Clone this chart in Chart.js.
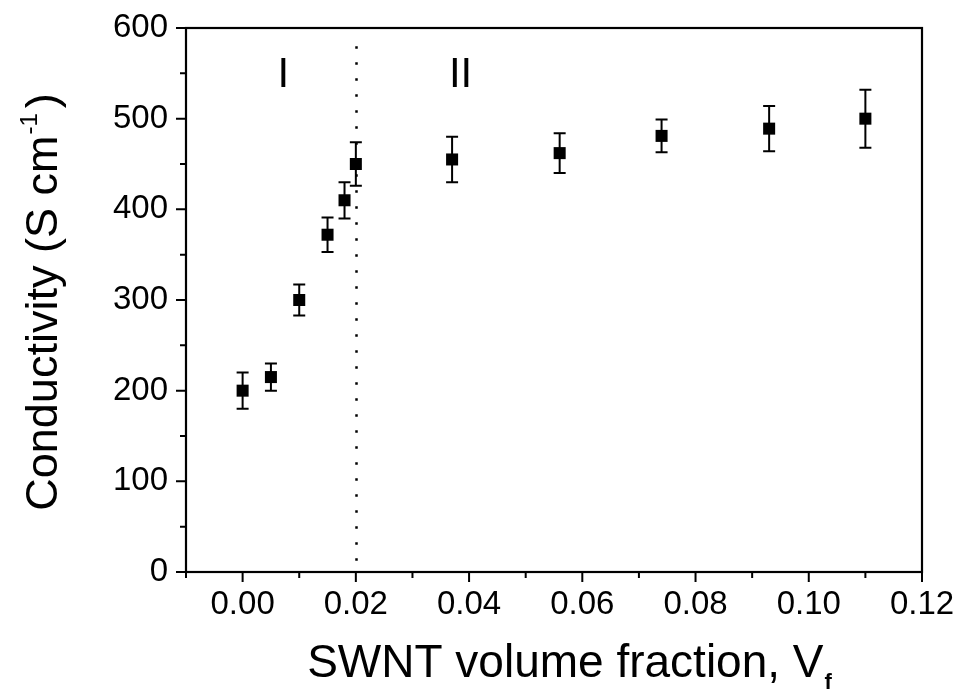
<!DOCTYPE html>
<html lang="en">
<head>
  <meta charset="UTF-8">
  <title>SWNT conductivity</title>
  <script src="https://cdn.jsdelivr.net/npm/chart.js"></script>
  <style>
    html, body { margin: 0; padding: 0; background: #fff; }
  </style>
</head>
<body>
  <canvas id="condChart" width="958" height="694"></canvas>

  <script>
    // data
    const volumeFraction = [0.000, 0.005, 0.010, 0.015, 0.018, 0.020, 0.037, 0.056, 0.074, 0.093, 0.110];
    const conductivity   = [200, 215, 300, 372, 410, 450, 455, 462, 481, 489, 500];
    const errorBar       = [20, 15, 17, 19, 20, 24, 25, 22, 18, 25, 32];

    const xMajorTicks = [0.00, 0.02, 0.04, 0.06, 0.08, 0.10, 0.12];
    const xMinorTicks = [-0.01, 0.01, 0.03, 0.05, 0.07, 0.09, 0.11];
    const yMajorTicks = [0, 100, 200, 300, 400, 500, 600];
    const yMinorTicks = [50, 150, 250, 350, 450, 550];

    const regimeLabels = ['I', 'II'];
    const regimeX = [0.0072, 0.0385];
    const regimeY = 548;
    const dividerX = 0.02;
    const dividerTop = 580;

    const FONT = "'Liberation Sans', Arial, sans-serif";
    Chart.defaults.font.family = FONT;
    Chart.defaults.color = '#000';

    // frame, ticks, divider, error bars and titles
    const figurePlugin = {
      id: 'figure',
      beforeDatasetsDraw(chart) {
        const ctx = chart.ctx;
        const xs = chart.scales.x, ys = chart.scales.y;
        const area = chart.chartArea;
        ctx.save();
        ctx.strokeStyle = '#000';

        // dotted divider
        ctx.lineWidth = 2.5;
        ctx.setLineDash([2.5, 13.5]);
        const dx = Math.round(xs.getPixelForValue(dividerX)) + 0.5;
        ctx.beginPath();
        ctx.moveTo(dx, ys.getPixelForValue(dividerTop));
        ctx.lineTo(dx, area.bottom);
        ctx.stroke();
        ctx.setLineDash([]);

        // error bars
        ctx.lineWidth = 2;
        for (let i = 0; i < volumeFraction.length; i++) {
          const px = xs.getPixelForValue(volumeFraction[i]);
          const top = ys.getPixelForValue(conductivity[i] + errorBar[i]);
          const bot = ys.getPixelForValue(conductivity[i] - errorBar[i]);
          ctx.beginPath();
          ctx.moveTo(px, top); ctx.lineTo(px, bot);
          ctx.moveTo(px - 6, top); ctx.lineTo(px + 6, top);
          ctx.moveTo(px - 6, bot); ctx.lineTo(px + 6, bot);
          ctx.stroke();
        }
        ctx.restore();
      },
      afterDraw(chart) {
        const ctx = chart.ctx;
        const xs = chart.scales.x, ys = chart.scales.y;
        const area = chart.chartArea;
        ctx.save();
        ctx.strokeStyle = '#000';
        ctx.fillStyle = '#000';

        // frame
        ctx.lineWidth = 2.2;
        ctx.strokeRect(area.left, area.top, area.right - area.left, area.bottom - area.top);

        // outward ticks on bottom and left
        ctx.lineWidth = 2;
        ctx.beginPath();
        xMajorTicks.forEach(v => { const p = xs.getPixelForValue(v); ctx.moveTo(p, area.bottom); ctx.lineTo(p, area.bottom + 10); });
        xMinorTicks.forEach(v => { const p = xs.getPixelForValue(v); ctx.moveTo(p, area.bottom); ctx.lineTo(p, area.bottom + 6); });
        yMajorTicks.forEach(v => { const p = ys.getPixelForValue(v); ctx.moveTo(area.left, p); ctx.lineTo(area.left - 10, p); });
        yMinorTicks.forEach(v => { const p = ys.getPixelForValue(v); ctx.moveTo(area.left, p); ctx.lineTo(area.left - 6, p); });
        ctx.stroke();

        // regime labels
        ctx.font = '42px ' + FONT;
        ctx.textAlign = 'center';
        ctx.textBaseline = 'middle';
        regimeLabels.forEach((t, i) => {
          ctx.fillText(t, xs.getPixelForValue(regimeX[i]), ys.getPixelForValue(regimeY));
        });

        // x title with subscript
        ctx.textAlign = 'left';
        ctx.textBaseline = 'alphabetic';
        const xMain = 'SWNT volume fraction, V';
        ctx.font = '46px ' + FONT;
        const wMain = ctx.measureText(xMain).width;
        ctx.font = 'bold 22px ' + FONT;
        const wSub = ctx.measureText('f').width;
        const sx = 569 - (wMain + wSub) / 2;
        ctx.font = '46px ' + FONT;
        ctx.fillText(xMain, sx, 677);
        ctx.font = 'bold 22px ' + FONT;
        ctx.fillText('f', sx + wMain + 1, 689);

        // y title with superscript, rotated
        ctx.translate(57, 302);
        ctx.rotate(-Math.PI / 2);
        const yMain = 'Conductivity (S cm';
        ctx.font = '45px ' + FONT;
        const w1 = ctx.measureText(yMain).width;
        const w3 = ctx.measureText(')').width;
        ctx.font = '24px ' + FONT;
        const w2 = ctx.measureText('-1').width;
        const ty = -(w1 + w2 + w3 + 6) / 2;
        ctx.font = '45px ' + FONT;
        ctx.fillText(yMain, ty, 0);
        ctx.font = '24px ' + FONT;
        ctx.fillText('-1', ty + w1 + 1, -20);
        ctx.font = '45px ' + FONT;
        ctx.fillText(')', ty + w1 + w2 + 6, 0);
        ctx.restore();
      }
    };

    const points = volumeFraction.map((v, i) => ({ x: v, y: conductivity[i] }));

    new Chart(document.getElementById('condChart'), {
      type: 'scatter',
      data: {
        datasets: [{
          data: points,
          pointStyle: 'rect',
          pointRadius: 8.5,
          pointBackgroundColor: '#000',
          pointBorderWidth: 0
        }]
      },
      options: {
        responsive: false,
        animation: false,
        devicePixelRatio: 1,
        layout: { padding: { top: 28, right: 36, left: 0, bottom: 0 } },
        plugins: { legend: { display: false }, tooltip: { enabled: false } },
        scales: {
          x: {
            type: 'linear',
            min: -0.01,
            max: 0.12,
            afterBuildTicks: s => { s.ticks = xMajorTicks.map(v => ({ value: v })); },
            afterFit: s => { s.height = 122; },
            grid: { display: false, drawTicks: true, tickLength: 10 },
            border: { display: false },
            ticks: {
              font: { size: 33 },
              padding: 3,
              maxRotation: 0,
              autoSkip: false,
              callback: v => v.toFixed(2)
            }
          },
          y: {
            type: 'linear',
            min: 0,
            max: 600,
            afterBuildTicks: s => { s.ticks = yMajorTicks.map(v => ({ value: v })); },
            afterFit: s => { s.width = 186; },
            grid: { display: false, drawTicks: true, tickLength: 10 },
            border: { display: false },
            ticks: { font: { size: 33 }, padding: 8, autoSkip: false }
          }
        }
      },
      plugins: [figurePlugin]
    });
  </script>
</body>
</html>
